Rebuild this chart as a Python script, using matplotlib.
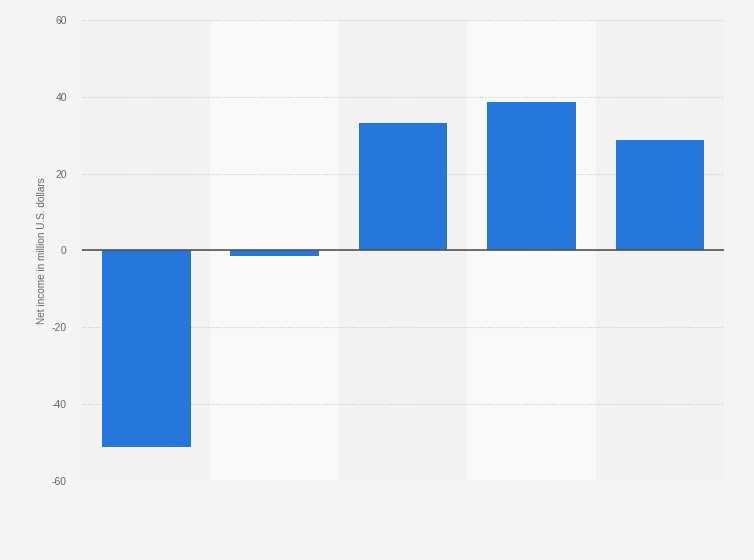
import numpy as np
import matplotlib.pyplot as plt

plt.rcParams['font.family'] = ['Liberation Sans', 'DejaVu Sans']

# ---------------------- DATOS ---------------------- #
categories = ["1", "2", "3", "4", "5"]
net_income = [-51.2, -1.4, 33.2, 38.7, 28.8]

y_ticks = [-60, -40, -20, 0, 20, 40, 60]
y_label = "Net income in million U.S. dollars"

# ---------------------- FIGURA ---------------------- #
fig = plt.figure(figsize=(7.54, 5.6), dpi=100)
fig.patch.set_facecolor("#f4f4f4")
ax = fig.add_axes([0.1088, 0.1411, 0.8514, 0.8232])
ax.set_facecolor("#f2f2f2")

x = np.arange(len(categories))

# bandas alternas
for i in x:
    if i % 2 == 1:
        ax.axvspan(i - 0.5, i + 0.5, color="#f9f9f9", zorder=0, lw=0)

ax.bar(x, net_income, width=0.69, color="#2677db", zorder=3)

ax.set_xlim(-0.5, len(categories) - 0.5)
ax.set_ylim(-60, 60)
ax.set_yticks(y_ticks)
ax.set_yticklabels([str(v) for v in y_ticks])
ax.set_xticks([])

ax.yaxis.grid(True, linestyle=(0, (1, 1.5)), color="#c8c8c8", lw=0.8, zorder=1)
ax.axhline(0, color="#555555", lw=1.2, zorder=4)

for s in ax.spines.values():
    s.set_visible(False)
ax.tick_params(axis="y", length=0, pad=11, labelsize=7.5, labelcolor="#666666")
ax.set_ylabel(y_label, fontsize=7.2, color="#666666", labelpad=3)

fig.savefig("out.png", dpi=100, facecolor=fig.get_facecolor())
